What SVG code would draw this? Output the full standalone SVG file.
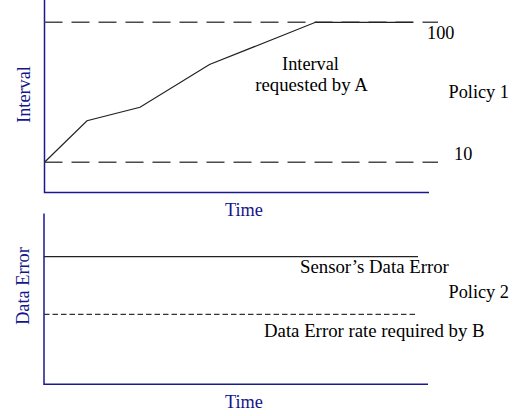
<svg xmlns="http://www.w3.org/2000/svg" width="516" height="416" viewBox="0 0 516 416">
<style>
.t{font-family:"Liberation Serif","Times New Roman",serif;font-size:18.3px;fill:#000}
.w{font-size:18.8px}
.b{fill:#14148c}
.ax{stroke:#1a1a90;stroke-width:1.5;fill:none}
.dl{stroke:#4a4a4a;stroke-width:1.4;stroke-dasharray:18 9;fill:none}
.ds{stroke:#333;stroke-width:1.2;stroke-dasharray:5.5 3;fill:none}
.sl{stroke:#222;stroke-width:1.2;fill:none}
</style>
<rect width="516" height="416" fill="#fff"/>
<g id="policy1">
<path class="ax" d="M44.5 0V192.5H429"/>
<path class="dl" d="M44.5 22.3H438"/>
<path class="dl" d="M44.5 162.3H438"/>
<polyline class="sl" points="44.5,162.3 87,120.7 140,107.3 209.5,64.5 315.5,22.3 413,22.3"/>
<text class="t b" transform="translate(29.5,94.5) rotate(-90)" text-anchor="middle">Interval</text>
<text class="t b" x="225" y="216">Time</text>
<text class="t" x="427" y="38.5">100</text>
<text class="t" x="454" y="160">10</text>
<text class="t" x="310.5" y="70" text-anchor="middle">Interval</text>
<text class="t w" x="311.5" y="90.5" text-anchor="middle">requested by A</text>
<text class="t" x="448.5" y="98">Policy 1</text>
</g>
<g id="policy2">
<path class="ax" d="M44 213.5V384.3H428"/>
<path class="sl" d="M44 256.7H418"/>
<path class="ds" d="M44 314.3H418"/>
<text class="t b" transform="translate(29,286) rotate(-90)" text-anchor="middle">Data Error</text>
<text class="t b" x="225" y="408">Time</text>
<text class="t w" x="300" y="273">Sensor’s Data Error</text>
<text class="t" x="448.5" y="298">Policy 2</text>
<text class="t w" x="264" y="336.5">Data Error rate required by B</text>
</g>
</svg>
